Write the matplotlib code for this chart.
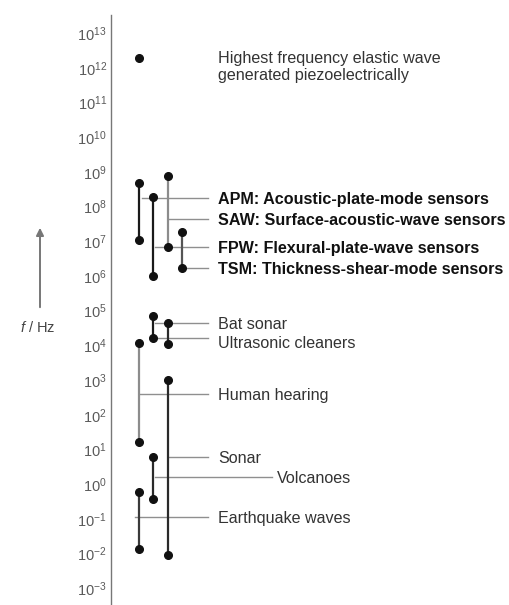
import matplotlib
matplotlib.use("Agg")
import matplotlib.pyplot as plt
import matplotlib.ticker as mticker

plt.rcParams['font.family'] = ['Liberation Sans', 'DejaVu Sans']
plt.rcParams['mathtext.fontset'] = 'custom'
plt.rcParams['mathtext.rm'] = 'Liberation Sans'
plt.rcParams['mathtext.it'] = 'Liberation Sans:italic'

# frequency ranges (Hz) drawn as vertical bars, one column each
bar_column = [0, 1, 2, 3, 1, 2, 0, 2, 1, 0]
bar_low = [1.1e7, 1.0e6, 6.8e6, 1.7e6, 1.6e4, 1.1e4, 16, 0.009, 0.37, 0.014]
bar_high = [4.8e8, 1.9e8, 7.6e8, 1.9e7, 6.9e4, 4.4e4, 1.2e4, 1000, 6.0, 0.59]

# single point: highest frequency elastic wave
top_point = 1.9e12
top_text = "Highest frequency elastic wave\ngenerated piezoelectrically"

# labels and the frequency their leader line sits at
labels = ["APM: Acoustic-plate-mode sensors",
          "SAW: Surface-acoustic-wave sensors",
          "FPW: Flexural-plate-wave sensors",
          "TSM: Thickness-shear-mode sensors",
          "Bat sonar", "Ultrasonic cleaners", "Human hearing",
          "Sonar", "Volcanoes", "Earthquake waves"]
label_freq = [1.8e8, 4.4e7, 6.8e6, 1.7e6, 4.4e4, 1.6e4, 400, 6.0, 1.6, 0.11]
label_bold = [True, True, True, True, False, False, False, False, False, False]

exponents = list(range(-3, 14))

# ---- layout (pixels of the 509x605 output) ----
W, H = 509, 605
AX_LEFT, AX_TOP = 111, 15
COL0, COL_STEP = 139, 14.3
def col(px):
    return (px - COL0) / COL_STEP

bar_colors = ['#1a1a1a', '#1a1a1a', '#8c8c8c', '#555555', '#1a1a1a',
              '#2a2a2a', '#8c8c8c', '#2a2a2a', '#2a2a2a', '#3a3a3a']
leader_from = [col(142), 2, col(155), 3, col(155), 1, col(140), 2, col(155), col(135)]
leader_to = [col(208)] * 8 + [col(272), col(208)]
text_x = [col(218)] * 8 + [col(277), col(218)]
text_dy = [0, 0, 0, 0, 0, -3, 0, 0, 0, 0]   # points, text nudged off its leader

fig = plt.figure(figsize=(W / 100, H / 100), dpi=100)
ax = fig.add_axes([AX_LEFT / W, 0, 1 - AX_LEFT / W, (H - AX_TOP) / H])
ax.set_yscale('log')
ax.set_ylim(10 ** -3.48, 10 ** 13.52)
ax.set_xlim(col(AX_LEFT), col(W))

for s in ('top', 'right', 'bottom'):
    ax.spines[s].set_visible(False)
ax.spines['left'].set_color('#777777')
ax.spines['left'].set_linewidth(1.0)
ax.set_xticks([])
ax.yaxis.set_major_locator(mticker.FixedLocator([10.0 ** e for e in exponents]))
ax.yaxis.set_minor_locator(mticker.NullLocator())
ax.set_yticklabels([r'$\mathregular{10^{%d}}$' % e for e in exponents])
ax.tick_params(axis='y', length=0, pad=3, labelsize=10.5, labelcolor='#5a5a5a')

# leader lines first so bars sit on top
for i, lab in enumerate(labels):
    ax.plot([leader_from[i], leader_to[i]], [label_freq[i]] * 2,
            color='#8f8f8f', lw=1.0, zorder=1)
    ax.annotate(lab, xy=(text_x[i], label_freq[i]), xytext=(0, text_dy[i]),
                textcoords='offset points', va='center_baseline', ha='left',
                fontsize=11.6, fontweight='bold' if label_bold[i] else 'normal',
                color='#111111' if label_bold[i] else '#333333')

for c, lo, hi, color in zip(bar_column, bar_low, bar_high, bar_colors):
    ax.plot([c, c], [lo, hi], color=color, lw=1.6, zorder=2)
    ax.plot([c, c], [lo, hi], 'o', color='#111111', ms=5.5, zorder=3)

ax.plot([0], [top_point], 'o', color='#111111', ms=5.5)
ax.annotate(top_text, xy=(col(218), top_point), xytext=(0, 5),
            textcoords='offset points', va='top', ha='left',
            fontsize=11.6, color='#333333', linespacing=1.15)

# frequency arrow and axis name
ax.annotate('', xy=(40, H - 225), xycoords='figure pixels',
            xytext=(40, H - 310), textcoords='figure pixels',
            arrowprops=dict(arrowstyle='-|>', color='#777777', lw=1.4,
                            mutation_scale=11))
fig.text(38 / W, 1 - 328 / H, '$f$ / Hz', ha='center', va='center',
         fontsize=10.5, color='#444444')

fig.savefig('out.png', dpi=100)
